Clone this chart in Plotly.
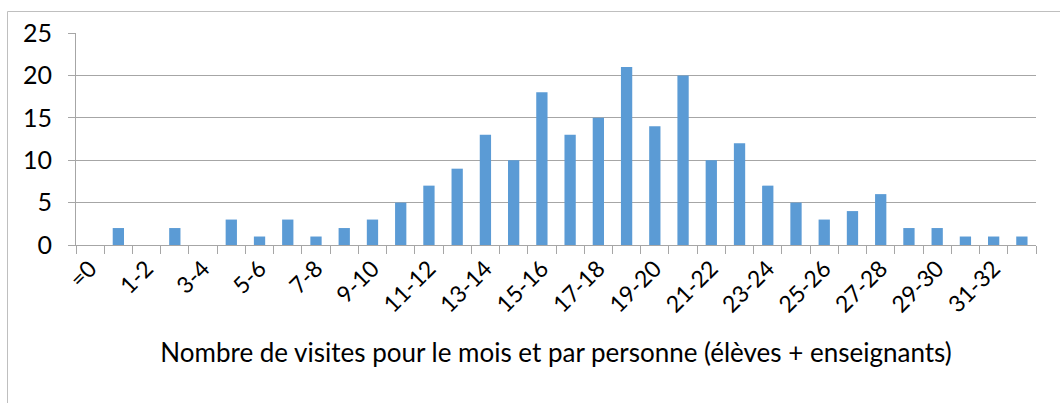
import plotly.graph_objects as go

categories = ["=0"] + [f"{i-1}-{i}" for i in range(1, 34)]
values = [0, 2, 0, 2, 0, 3, 1, 3, 1, 2, 3, 5, 7, 9, 13, 10, 18, 13, 15, 21,
          14, 20, 10, 12, 7, 5, 3, 4, 6, 2, 2, 1, 1, 1]
tick_text = [c if i % 2 == 0 else "" for i, c in enumerate(categories)]
x_title = "Nombre de visites pour le mois et par personne (élèves + enseignants)"

FONT = "Lato"

fig = go.Figure(go.Bar(x=categories, y=values, marker=dict(color="#5B9BD5", line=dict(width=0))))

fig.update_layout(
    width=1060, height=403,
    margin=dict(l=76, r=24, t=33, b=158),
    paper_bgcolor="white", plot_bgcolor="white",
    bargap=0.6, showlegend=False,
    font=dict(family=FONT, color="#000000"),
)
fig.update_xaxes(
    type="category", tickvals=categories, ticktext=tick_text,
    tickson="boundaries", ticks="outside", ticklen=8, tickcolor="#A6A6A6",
    showline=True, linecolor="#A6A6A6", linewidth=1,
    tickangle=-45, tickfont=dict(family=FONT, size=23),
    showgrid=False, automargin=False,
    title=dict(text=x_title, font=dict(family=FONT, size=26), standoff=27),
    range=[-0.5, len(categories) - 0.5],
)
fig.update_yaxes(
    range=[0, 25], dtick=5, ticks="outside", ticklen=7, tickcolor="#A6A6A6",
    showline=True, linecolor="#A6A6A6", linewidth=1,
    showgrid=True, gridcolor="#A6A6A6", gridwidth=1,
    tickfont=dict(family=FONT, size=25), ticklabelstandoff=11,
    zeroline=False, automargin=False,
)
fig.add_shape(type="rect", xref="paper", yref="paper",
              x0=(7.5 - 76) / 960, x1=1.2, y0=-1.5, y1=1 + (33 - 11.5) / 212,
              line=dict(color="#BFBFBF", width=1), layer="below")

fig.write_html("out.html", config={"displayModeBar": False},
               post_script="document.body.style.margin='0';document.body.style.overflow='hidden';")
